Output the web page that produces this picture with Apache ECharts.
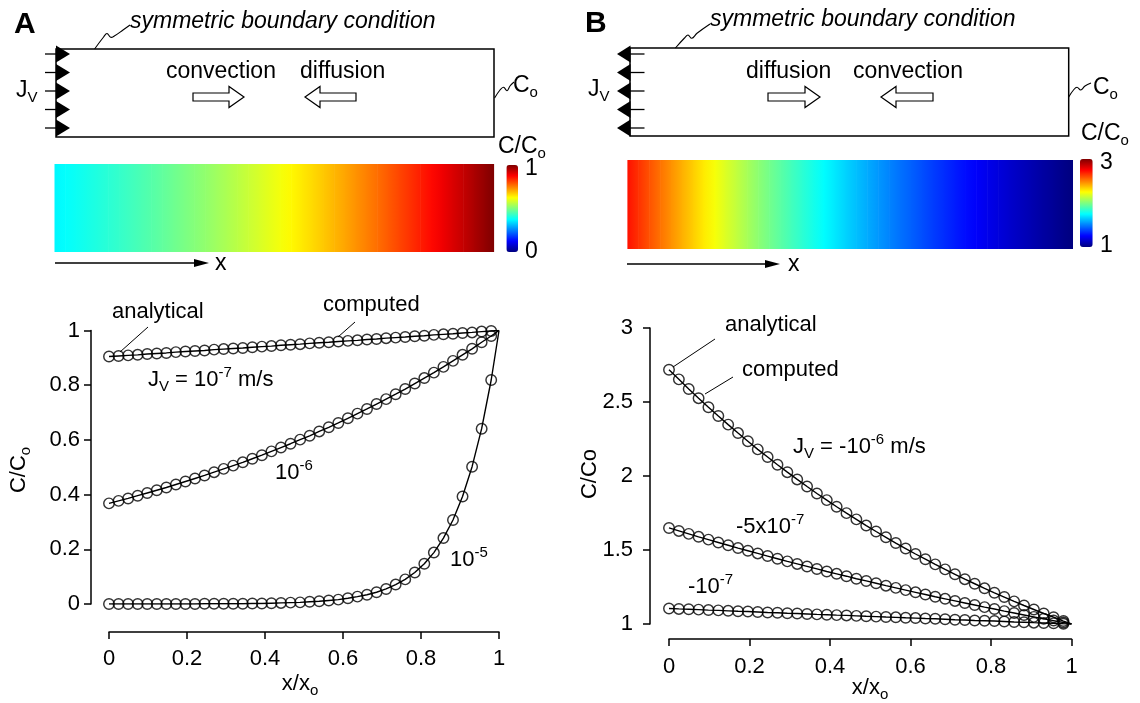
<!DOCTYPE html>
<html>
<head>
<meta charset="utf-8">
<script src="https://cdn.jsdelivr.net/npm/echarts@6/dist/echarts.min.js"></script>
<style>
  html, body { margin: 0; padding: 0; background: #fff; }
  #chart { width: 1140px; height: 703px; }
</style>
</head>
<body>
<div id="chart"></div>
<script>
// Sample positions along the channel (x / x_o)
const xPos = [0, 0.0245, 0.049, 0.0735, 0.098, 0.1225, 0.147, 0.1715, 0.196, 0.2205,
  0.245, 0.2695, 0.294, 0.3185, 0.343, 0.3675, 0.392, 0.4165, 0.441, 0.4655,
  0.49, 0.5145, 0.539, 0.5635, 0.588, 0.6125, 0.637, 0.6615, 0.686, 0.7105,
  0.735, 0.7595, 0.784, 0.8085, 0.833, 0.8575, 0.882, 0.9065, 0.931, 0.9555, 0.98];

// Outer boundary: C = Co at x = x_o
const xBoundary = 1;
const cBoundary = 1;

// Panel A: C/Co for Jv = 1e-7, 1e-6, 1e-5 m/s
const cA_1e7 = [0.905, 0.907, 0.909, 0.911, 0.914, 0.916, 0.918, 0.921, 0.923, 0.925,
  0.927, 0.930, 0.932, 0.934, 0.936, 0.939, 0.941, 0.943, 0.946, 0.948,
  0.950, 0.953, 0.955, 0.957, 0.960, 0.962, 0.964, 0.967, 0.969, 0.972,
  0.974, 0.976, 0.979, 0.981, 0.984, 0.986, 0.988, 0.991, 0.993, 0.996, 0.998];
const cA_1e6 = [0.368, 0.377, 0.386, 0.396, 0.406, 0.416, 0.426, 0.437, 0.448, 0.459,
  0.470, 0.482, 0.494, 0.506, 0.518, 0.531, 0.544, 0.558, 0.572, 0.586,
  0.601, 0.615, 0.631, 0.646, 0.662, 0.679, 0.696, 0.713, 0.731, 0.749,
  0.767, 0.786, 0.806, 0.826, 0.846, 0.867, 0.889, 0.911, 0.933, 0.957, 0.980];
const cA_1e5 = [0.000, 0.000, 0.000, 0.000, 0.000, 0.000, 0.000, 0.000, 0.000, 0.000,
  0.001, 0.001, 0.001, 0.001, 0.001, 0.002, 0.002, 0.003, 0.004, 0.005,
  0.006, 0.008, 0.010, 0.013, 0.016, 0.021, 0.027, 0.034, 0.043, 0.055,
  0.071, 0.090, 0.115, 0.147, 0.188, 0.241, 0.307, 0.393, 0.502, 0.641, 0.819];

// Panel B: C/Co for Jv = -1e-6, -5e-7, -1e-7 m/s
const cB_1e6 = [2.718, 2.653, 2.588, 2.526, 2.465, 2.405, 2.347, 2.290, 2.235, 2.180,
  2.128, 2.076, 2.026, 1.977, 1.929, 1.882, 1.837, 1.792, 1.749, 1.707,
  1.665, 1.625, 1.586, 1.547, 1.510, 1.473, 1.438, 1.403, 1.369, 1.336,
  1.303, 1.272, 1.241, 1.211, 1.182, 1.153, 1.125, 1.098, 1.071, 1.046, 1.020];
const cB_5e7 = [1.649, 1.629, 1.609, 1.589, 1.570, 1.551, 1.532, 1.513, 1.495, 1.477,
  1.459, 1.441, 1.423, 1.406, 1.389, 1.372, 1.355, 1.339, 1.323, 1.306,
  1.291, 1.275, 1.259, 1.244, 1.229, 1.214, 1.199, 1.184, 1.170, 1.156,
  1.142, 1.128, 1.114, 1.101, 1.087, 1.074, 1.061, 1.048, 1.035, 1.023, 1.010];
const cB_1e7 = [1.105, 1.102, 1.100, 1.097, 1.094, 1.092, 1.089, 1.086, 1.084, 1.081,
  1.078, 1.076, 1.073, 1.071, 1.068, 1.065, 1.063, 1.060, 1.058, 1.055,
  1.052, 1.050, 1.047, 1.045, 1.042, 1.040, 1.037, 1.035, 1.032, 1.029,
  1.027, 1.024, 1.022, 1.020, 1.017, 1.014, 1.012, 1.009, 1.007, 1.005, 1.002];

// Colour-scale ranges of the two concentration maps
const mapRangeA = [0, 1];
const mapRangeB = [1, 3];
const jet = ['#00007f', '#0000ff', '#007fff', '#00ffff', '#7fff7f', '#ffff00', '#ff7f00', '#ff0000', '#7f0000'];

const FONT = '"Liberation Sans", Arial, Helvetica, sans-serif';

function pairs(xs, ys) { return xs.map((x, i) => [x, ys[i]]); }
function withBoundary(xs, ys) { return pairs(xs, ys).concat([[xBoundary, cBoundary]]); }
// Map strips: each piece spans [x_i, x_i+1] and shades from C_i to C_i+1
function strips(xs, ys) {
  return xs.map((x, i) => i < xs.length - 1
    ? [x, xs[i + 1], ys[i], ys[i + 1]]
    : [x, xBoundary, ys[i], cBoundary]);
}

// Jet colour for t in [0, 1]
function hexToRgb(h) { return [1, 3, 5].map(k => parseInt(h.substr(k, 2), 16)); }
const jetRgb = jet.map(hexToRgb);
function jetColor(t) {
  t = Math.max(0, Math.min(1, t));
  const f = t * (jetRgb.length - 1);
  const i = Math.min(jetRgb.length - 2, Math.floor(f));
  const u = f - i;
  const c = jetRgb[i].map((a, k) => Math.round(a + (jetRgb[i + 1][k] - a) * u));
  return 'rgb(' + c.join(',') + ')';
}

const rich = {
  sub: { fontSize: 15, lineHeight: 14, verticalAlign: 'bottom', fontFamily: FONT, fill: '#000' },
  sup: { fontSize: 15, lineHeight: 14, verticalAlign: 'top', fontFamily: FONT, fill: '#000' }
};

function txt(x, y, text, o) {
  o = o || {};
  const align = o.align || 'left';
  return {
    type: 'text', x: x, y: y, rotation: o.rot || 0, silent: true, z: 10,
    style: {
      text: text, fill: '#000', fontSize: o.size || 22, fontFamily: FONT,
      fontStyle: o.italic ? 'italic' : 'normal', fontWeight: o.bold ? 'bold' : 'normal',
      lineHeight: o.lh || 29, align: align, textAlign: align,
      verticalAlign: 'middle', textVerticalAlign: 'middle', rich: rich
    }
  };
}
function seg(x1, y1, x2, y2, w) {
  return { type: 'line', silent: true, z: 10, shape: { x1, y1, x2, y2 }, style: { stroke: '#000', lineWidth: w || 1.2 } };
}
function poly(points, fill, stroke) {
  return { type: 'polygon', silent: true, z: 10, shape: { points }, style: { fill: fill, stroke: stroke || null, lineWidth: 1.2 } };
}
function squiggle(points) {
  return { type: 'polyline', silent: true, z: 10, shape: { points, smooth: 0.4 }, style: { stroke: '#000', fill: null, lineWidth: 1.1 } };
}
// Hollow block arrow pointing right (dir = 1) or left (dir = -1)
function blockArrow(tail, tip, cy, dir) {
  const hb = tip - dir * 15;
  return poly([[tail, cy - 4], [hb, cy - 4], [hb, cy - 10.5], [tip, cy], [hb, cy + 10.5], [hb, cy + 4], [tail, cy + 4]], '#fff', '#000');
}

const graphics = [];
const flowY = [54, 72.5, 91, 109.5, 128];
const S = 23; // schematic text size

// ---- Panel A schematic ----
graphics.push(txt(14, 25, 'A', { size: 30, bold: true }));
graphics.push({ type: 'rect', silent: true, z: 10, shape: { x: 56, y: 49, width: 438, height: 88 }, style: { fill: 'none', stroke: '#000', lineWidth: 1.5 } });
flowY.forEach(y => {
  graphics.push(seg(45, y, 60, y, 1.3));
  graphics.push(poly([[56, y - 8.5], [70, y], [56, y + 8.5]], '#000'));
});
graphics.push(txt(16, 91, 'J{sub|V}', { size: S }));
graphics.push(squiggle([[94.6, 49], [103.6, 37], [107, 33.5], [110.7, 37.3], [114.3, 36], [123, 30], [130, 25]]));
graphics.push(txt(130, 22, 'symmetric boundary condition', { italic: true, size: S }));
graphics.push(txt(166, 72, 'convection', { size: S }));
graphics.push(txt(300, 72, 'diffusion', { size: S }));
graphics.push(blockArrow(193, 244, 97, 1));
graphics.push(blockArrow(356, 305, 97, -1));
graphics.push(squiggle([[494.6, 98], [500, 90], [503.6, 87.3], [507, 90.7], [510, 86], [514, 82]]));
graphics.push(txt(513, 86, 'C{sub|o}', { size: S }));
graphics.push(txt(498, 147, 'C/C{sub|o}', { size: S }));
graphics.push(txt(525, 169, '1', { size: S }));
graphics.push(txt(525, 252, '0', { size: S }));
graphics.push(seg(55, 263, 200, 263, 1.3));
graphics.push(poly([[194, 259], [209, 263], [194, 267]], '#000'));
graphics.push(txt(215, 264, 'x', { size: S }));

// ---- Panel B schematic ----
graphics.push(txt(585, 24, 'B', { size: 30, bold: true }));
graphics.push({ type: 'rect', silent: true, z: 10, shape: { x: 630, y: 48, width: 438.7, height: 88 }, style: { fill: 'none', stroke: '#000', lineWidth: 1.5 } });
flowY.forEach(y => {
  graphics.push(seg(620, y, 644.5, y, 1.3));
  graphics.push(poly([[630.5, y - 8.5], [617, y], [630.5, y + 8.5]], '#000'));
});
graphics.push(txt(588, 90, 'J{sub|V}', { size: S }));
graphics.push(squiggle([[675.4, 48], [684.5, 38], [688, 35], [691.8, 38.3], [697, 33.3], [710, 24]]));
graphics.push(txt(710, 20, 'symmetric boundary condition', { italic: true, size: S }));
graphics.push(txt(746, 72, 'diffusion', { size: S }));
graphics.push(txt(853, 72, 'convection', { size: S }));
graphics.push(blockArrow(768, 820, 97, 1));
graphics.push(blockArrow(933, 881, 97, -1));
graphics.push(squiggle([[1068.7, 97], [1073.5, 90], [1077, 87.3], [1080.7, 90], [1085, 86], [1091, 83]]));
graphics.push(txt(1093, 88, 'C{sub|o}', { size: S }));
graphics.push(txt(1081, 134, 'C/C{sub|o}', { size: S }));
graphics.push(txt(1100, 163, '3', { size: S }));
graphics.push(txt(1100, 246, '1', { size: S }));
graphics.push(seg(627, 264, 770, 264, 1.3));
graphics.push(poly([[765, 260], [780, 264], [765, 268]], '#000'));
graphics.push(txt(788, 265, 'x', { size: S }));

// ---- Panel A plot annotations ----
graphics.push(txt(112, 312, 'analytical'));
graphics.push(seg(148, 327, 120, 352, 1));
graphics.push(txt(323, 305, 'computed'));
graphics.push(seg(355, 322, 338, 337, 1));
graphics.push(txt(148, 380, 'J{sub|V} = 10{sup|-7} m/s'));
graphics.push(txt(275, 473, '10{sup|-6}'));
graphics.push(txt(450, 560, '10{sup|-5}'));
graphics.push(txt(19, 470, 'C/C{sub|o}', { align: 'center', rot: Math.PI / 2 }));
graphics.push(txt(300, 684, 'x/x{sub|o}', { align: 'center' }));

// ---- Panel B plot annotations ----
graphics.push(txt(725, 325, 'analytical'));
graphics.push(seg(715, 339, 673, 367, 1));
graphics.push(txt(742, 370, 'computed'));
graphics.push(seg(733, 377, 705, 394, 1));
graphics.push(txt(793, 447, 'J{sub|V} = -10{sup|-6} m/s'));
graphics.push(txt(736, 527, '-5x10{sup|-7}'));
graphics.push(txt(688, 587, '-10{sup|-7}'));
graphics.push(txt(590, 474, 'C/Co', { align: 'center', rot: Math.PI / 2 }));
graphics.push(txt(870, 688, 'x/x{sub|o}', { align: 'center' }));

const axisStyle = { lineStyle: { color: '#000', width: 1.5 } };
function valueAxis(grid, min, max, interval, offset, margin) {
  return {
    type: 'value', gridIndex: grid, min, max, interval, offset,
    axisLine: { show: true, onZero: false, ...axisStyle },
    axisTick: { show: true, length: 7, ...axisStyle },
    axisLabel: { color: '#000', fontSize: 22, fontFamily: FONT, margin },
    splitLine: { show: false }
  };
}
function hiddenValue(grid, min, max) {
  return { type: 'value', gridIndex: grid, min, max, show: false, splitLine: { show: false } };
}

function lineSeries(xi, yi, data) {
  return {
    type: 'line', xAxisIndex: xi, yAxisIndex: yi, data, symbol: 'none', z: 2,
    lineStyle: { color: '#000', width: 1.4 }, emphasis: { disabled: true }, silent: true
  };
}
function circleSeries(xi, yi, data) {
  return {
    type: 'scatter', xAxisIndex: xi, yAxisIndex: yi, data, symbol: 'circle', symbolSize: 10.5, z: 3,
    itemStyle: { color: 'rgba(0,0,0,0)', borderColor: '#000', borderWidth: 1.45 },
    emphasis: { disabled: true }, silent: true
  };
}
function mapSeries(axisIdx, data, range) {
  const norm = v => (v - range[0]) / (range[1] - range[0]);
  return {
    type: 'custom', xAxisIndex: axisIdx, yAxisIndex: axisIdx, data, silent: true,
    renderItem: function (params, api) {
      const p0 = api.coord([api.value(0), 1]);
      const p1 = api.coord([api.value(1), 0]);
      return {
        type: 'rect',
        shape: { x: p0[0], y: p0[1], width: p1[0] - p0[0] + 0.6, height: p1[1] - p0[1] },
        style: {
          fill: new echarts.graphic.LinearGradient(0, 0, 1, 0, [
            { offset: 0, color: jetColor(norm(api.value(2))) },
            { offset: 1, color: jetColor(norm(api.value(3))) }
          ])
        }
      };
    }
  };
}

const chart = echarts.init(document.getElementById('chart'), null, { renderer: 'canvas' });
chart.setOption({
  animation: false,
  backgroundColor: '#fff',
  grid: [
    { left: 109, top: 330.5, width: 390, height: 273.5 },
    { left: 669, top: 328, width: 402.5, height: 296 },
    { left: 54.5, top: 164, width: 439, height: 88 },
    { left: 627.4, top: 160, width: 445, height: 89 }
  ],
  xAxis: [
    valueAxis(0, 0, 1, 0.2, 28, 16),
    valueAxis(1, 0, 1, 0.2, 15, 17),
    hiddenValue(2, 0, 1),
    hiddenValue(3, 0, 1)
  ],
  yAxis: [
    valueAxis(0, 0, 1, 0.2, 18, 11),
    valueAxis(1, 1, 3, 0.5, 19, 17),
    hiddenValue(2, 0, 1),
    hiddenValue(3, 0, 1)
  ],
  visualMap: [
    {
      type: 'continuous', seriesIndex: 12, min: mapRangeA[0], max: mapRangeA[1], dimension: 2,
      inRange: { color: jet }, left: 506.4, top: 165, itemWidth: 11.6, itemHeight: 87,
      padding: 0, calculable: false, hoverLink: false
    },
    {
      type: 'continuous', seriesIndex: 13, min: mapRangeB[0], max: mapRangeB[1], dimension: 2,
      inRange: { color: jet }, left: 1080, top: 159, itemWidth: 12.7, itemHeight: 88,
      padding: 0, calculable: false, hoverLink: false
    }
  ],
  series: [
    lineSeries(0, 0, withBoundary(xPos, cA_1e7)),
    lineSeries(0, 0, withBoundary(xPos, cA_1e6)),
    lineSeries(0, 0, withBoundary(xPos, cA_1e5)),
    circleSeries(0, 0, pairs(xPos, cA_1e7)),
    circleSeries(0, 0, pairs(xPos, cA_1e6)),
    circleSeries(0, 0, pairs(xPos, cA_1e5)),
    lineSeries(1, 1, withBoundary(xPos, cB_1e6)),
    lineSeries(1, 1, withBoundary(xPos, cB_5e7)),
    lineSeries(1, 1, withBoundary(xPos, cB_1e7)),
    circleSeries(1, 1, pairs(xPos, cB_1e6)),
    circleSeries(1, 1, pairs(xPos, cB_5e7)),
    circleSeries(1, 1, pairs(xPos, cB_1e7)),
    mapSeries(2, strips(xPos, cA_1e6), mapRangeA),
    mapSeries(3, strips(xPos, cB_1e6), mapRangeB)
  ],
  graphic: graphics
});
</script>
</body>
</html>
